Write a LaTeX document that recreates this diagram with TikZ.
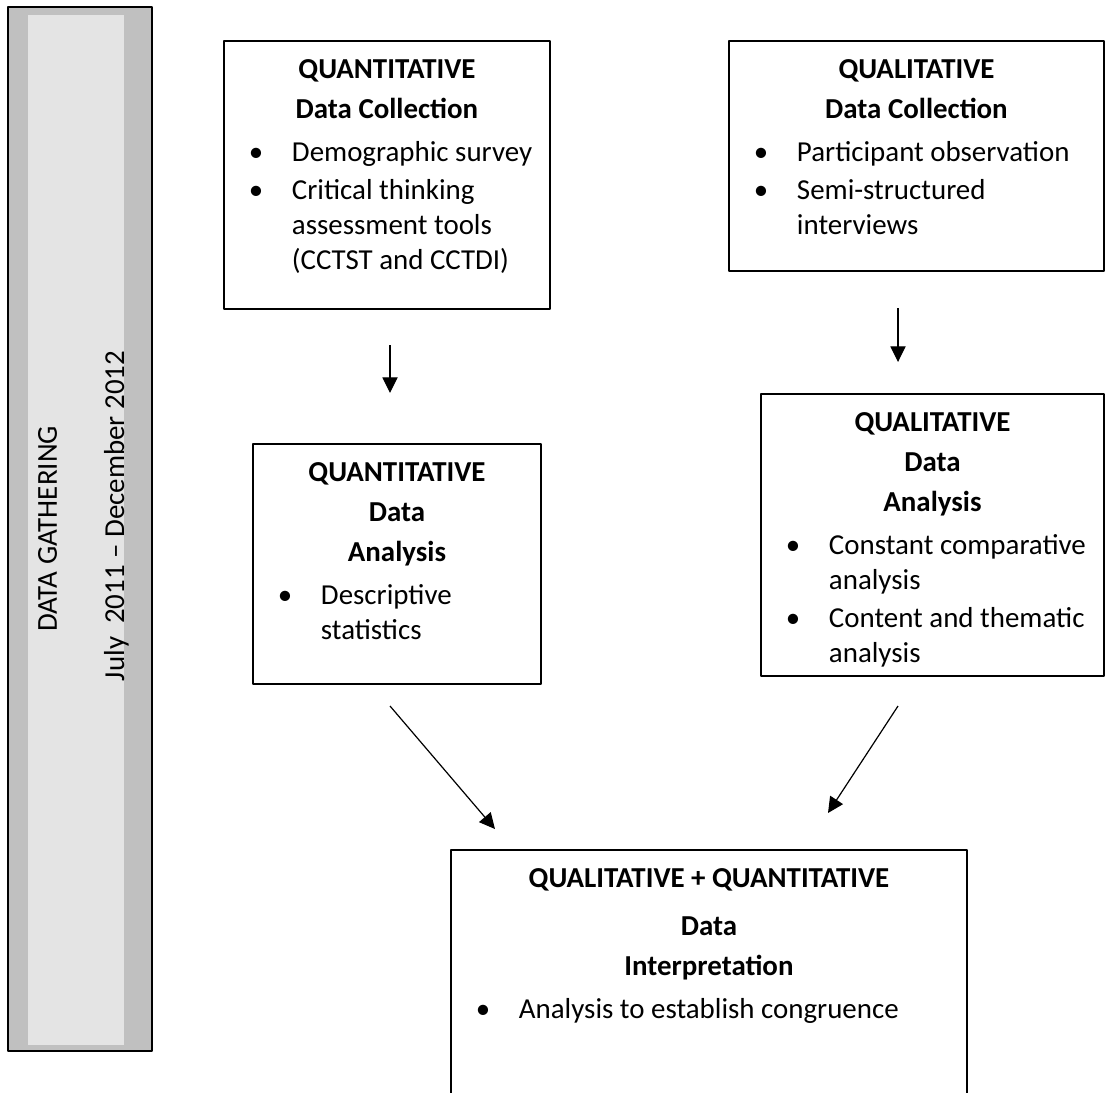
\documentclass[tikz,border=0pt]{standalone}
\usepackage{fontspec}
\setmainfont{Carlito}
\usetikzlibrary{arrows.meta}
\definecolor{barout}{HTML}{C0C0C0}
\definecolor{barin}{HTML}{E4E4E4}
\newlength\px \setlength\px{0.415pt}
% box contents: width, height (px), lines
\newcommand{\panel}[3]{\begin{minipage}[t][#2\px][t]{#1\px}\fontsize{12pt}{14.5pt}\selectfont\parskip=0pt\vspace*{13\px}#3\end{minipage}}
\newcommand{\ttl}[1]{{\centering\strut\textbf{#1}\par}\vspace{5\px}}
\newcommand{\itm}[1]{\vspace{3\px}{\raggedright\hangindent=68\px\hangafter=1\noindent\hspace*{25\px}\makebox[43\px][l]{\textbullet}#1\par}}
\begin{document}
\begin{tikzpicture}[x=0.415pt,y=-0.415pt,line join=round,
  panelbox/.style={draw,line width=0.8pt,inner sep=0pt,anchor=north west},
  arr/.style={line width=0.5pt,-{Triangle[length=6.5pt,width=6.3pt]}}]
\useasboundingbox (0,0) rectangle (1105,1092);
% side bar
\draw[line width=0.8pt,fill=barout] (8,7) rectangle (152,1051);
\fill[barin] (28,15) rectangle (124,1045);
\node[rotate=90,inner sep=0pt,font=\fontsize{12pt}{14.5pt}\selectfont] (gather) at (47.5,529) {DATA GATHERING};
\node[rotate=90,inner sep=0pt,anchor=base,font=\fontsize{12pt}{14.5pt}\selectfont] (period) at (124,516) {July\ \ 2011 – December 2012};
% boxes
\node[panelbox] (qncol) at (223,40) {\panel{326}{268}{\ttl{QUANTITATIVE}\ttl{Data Collection}%
  \itm{Demographic survey}\itm{Critical thinking\newline assessment tools\newline (CCTST and CCTDI)}}};
\node[panelbox] (qlcol) at (728,40) {\panel{375}{230}{\ttl{QUALITATIVE}\ttl{Data Collection}%
  \itm{Participant observation}\itm{Semi-structured\newline interviews}}};
\node[panelbox] (qnana) at (252,443) {\panel{288}{240}{\ttl{QUANTITATIVE}\ttl{Data}\ttl{Analysis}%
  \itm{Descriptive\newline statistics}}};
\node[panelbox] (qlana) at (760,393) {\panel{343}{282}{\ttl{QUALITATIVE}\ttl{Data}\ttl{Analysis}%
  \itm{Constant comparative\newline analysis}\itm{Content and thematic\newline analysis}}};
\node[panelbox] (interp) at (450,849) {\panel{516}{250}{\ttl{QUALITATIVE + QUANTITATIVE}\vspace{8\px}\ttl{Data}\ttl{Interpretation}%
  \itm{Analysis to establish congruence}}};
% arrows
\coordinate (a1s) at (390,345); \coordinate (a1e) at (390,393);
\coordinate (a2s) at (898,308); \coordinate (a2e) at (898,362);
\coordinate (a3s) at (390,706); \coordinate (a3e) at (495,829);
\coordinate (a4s) at (898,706); \coordinate (a4e) at (828,813);
\draw[arr] (a1s)--(a1e);
\draw[arr] (a2s)--(a2e);
\draw[arr] (a3s)--(a3e);
\draw[arr] (a4s)--(a4e);
\end{tikzpicture}
\end{document}
